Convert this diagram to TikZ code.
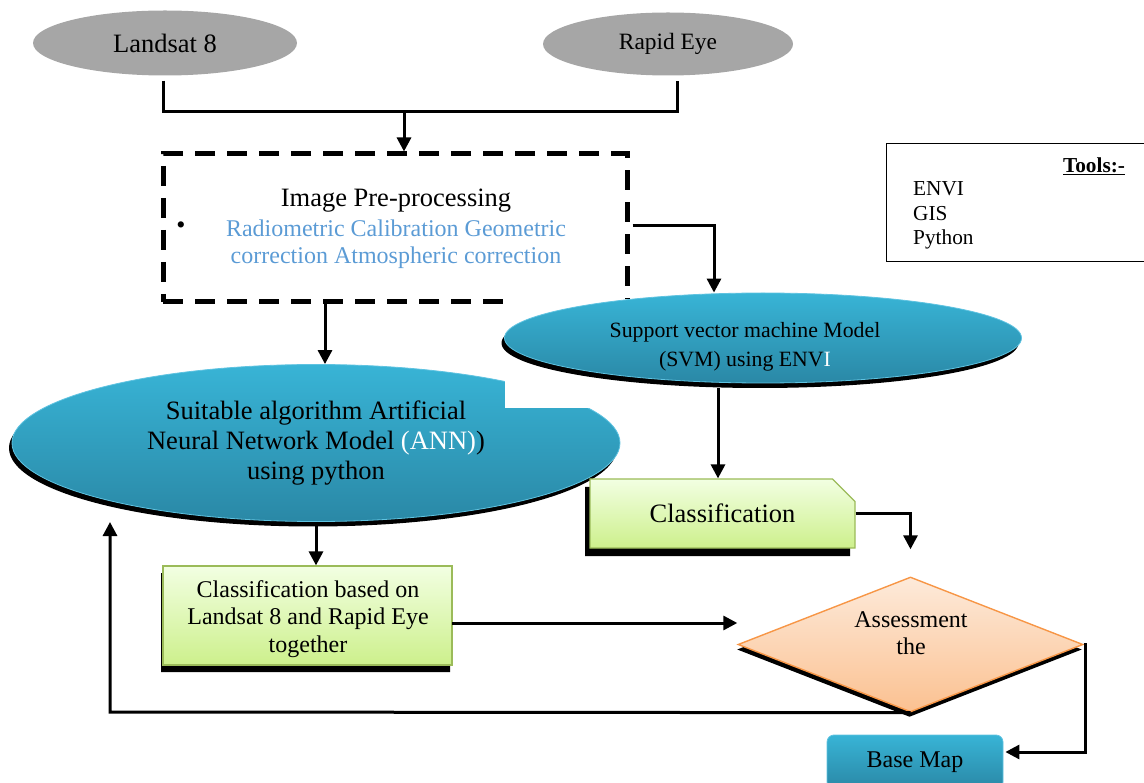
\documentclass[tikz,border=0pt]{standalone}
\usepackage{fontspec}
\setmainfont{Liberation Serif}
\usetikzlibrary{shapes.geometric,shapes.misc,arrows.meta,shadows}
\definecolor{srcgray}{RGB}{166,166,166}
\definecolor{bluetop}{RGB}{56,180,214}
\definecolor{bluebot}{RGB}{42,136,166}
\definecolor{blueedge}{RGB}{95,195,225}
\definecolor{bluetxt}{RGB}{91,155,213}
\definecolor{greentop}{RGB}{242,255,226}
\definecolor{greenbot}{RGB}{205,240,140}
\definecolor{greenedge}{RGB}{155,187,89}
\definecolor{orangetop}{RGB}{253,234,218}
\definecolor{orangebot}{RGB}{251,193,145}
\definecolor{orangeedge}{RGB}{247,150,70}
\begin{document}
\begin{tikzpicture}[x=1pt,y=-1pt,
  conn/.style={line width=3pt},
  arr/.style={conn,-{Triangle[length=14pt,width=14pt]}},
  big/.style={font=\fontsize{26.5}{30}\selectfont},
  mid/.style={font=\fontsize{24}{27.5}\selectfont},
  small/.style={font=\fontsize{21.3}{25}\selectfont},
  srcnode/.style={ellipse, fill=srcgray, inner sep=0pt},
  modelnode/.style={ellipse, inner sep=0pt, top color=bluetop, bottom color=bluebot, draw=blueedge, line width=0.8pt,
    drop shadow={shadow xshift=-3pt, shadow yshift=-5pt, fill=black, opacity=1}},
  resnode/.style={chamfered rectangle, chamfered rectangle corners=north east,
    chamfered rectangle xsep=13pt, chamfered rectangle ysep=13pt, inner sep=0pt,
    top color=greentop, bottom color=greenbot, draw=greenedge, line width=1.2pt},
  decnode/.style={diamond, inner sep=0pt, top color=orangetop, bottom color=orangebot, draw=orangeedge, line width=1.4pt,
    drop shadow={shadow xshift=-1pt, shadow yshift=-5pt, fill=black, opacity=1}},
  basenode/.style={rectangle, rounded corners=7pt, inner sep=0pt, top color=bluetop, bottom color=bluebot, draw=blueedge, line width=0.8pt},
  prebox/.style={rectangle, draw, line width=5pt, dash pattern=on 20pt off 12pt, inner sep=0pt}
]
\useasboundingbox (0,0) rectangle (1144,783);
\clip (0,0) rectangle (1144,783);

% sources
\node[srcnode, big, minimum width=264pt, minimum height=65pt] (land) at (165,43) {Landsat 8};
\node[srcnode, font=\fontsize{23.4}{28}\selectfont, minimum width=250pt, minimum height=63pt] (rapid) at (668,44) {Rapid Eye};

% ANN model
\node[modelnode, big, align=center, minimum width=608pt, minimum height=157pt] (ann) at (316,443)
  {Suitable algorithm Artificial\\Neural Network Model \textcolor{white}{(ANN)})\\using python};

% pre-processing box
\node[prebox, minimum width=464pt, minimum height=148pt] (pre) at (395,228) {};
\node[big] (pretitle) at (396,201) {Image Pre-processing};
\node[mid, text=bluetxt, align=center] (prebody) at (396,244) {Radiometric Calibration Geometric\\correction Atmospheric correction};
\node[font=\fontsize{26}{28}\selectfont] (bul) at (181,228) {\textbullet};

% white patch (overlap in the original)
\fill[white] (505,299) rectangle (636,408);

% SVM model
\node[modelnode, minimum width=517pt, minimum height=90pt] (svm) at (763,338) {};
\node[font=\fontsize{21.8}{29}\selectfont, align=center] (svmtext) at (745,347) {Support vector machine Model\\(SVM) using ENV\textcolor{white}{I}};

% classification boxes
\node[resnode, big, minimum width=265pt, minimum height=69pt,
  drop shadow={shadow xshift=-5pt, shadow yshift=-8pt, fill=black, opacity=1}] (cls) at (722.5,513.5) {Classification};
\node[resnode, minimum width=289pt, minimum height=99pt,
  drop shadow={shadow xshift=-2pt, shadow yshift=-7pt, fill=black, opacity=1}] (cls2) at (307.5,615.5) {};
\node[mid, align=center] (cls2text) at (308,619) {Classification based on\\Landsat 8 and Rapid Eye\\together};

% assessment
\node[decnode, minimum width=345pt, minimum height=135pt] (ass) at (910.5,644.5) {};
\node[mid, align=center] (asstext) at (911,633) {Assessment\\the};

% base map
\node[basenode, mid, minimum width=176pt, minimum height=54pt] (base) at (915,762) {Base Map};

% tools box
\node[draw, line width=1.3pt, minimum width=270pt, minimum height=118pt, anchor=north west, inner sep=0pt] (tools) at (886,143) {};
\node[font=\fontsize{21.3}{25}\selectfont\bfseries] (toolshead) at (1094,166) {\underline{Tools:-}};
\node[small, anchor=west, inner sep=0pt] (t1) at (913,189) {ENVI};
\node[small, anchor=west, inner sep=0pt] (t2) at (913,214) {GIS};
\node[small, anchor=west, inner sep=0pt] (t3) at (913,239) {Python};

% connectors
\coordinate (jL) at (163,112);
\coordinate (jR) at (677,112);
\coordinate (jM) at (404,112);
\draw[conn] (land.south -| jL) ++(0,5) -- (jL) -- (jR) -- ([yshift=-5pt]rapid.south -| jR);
\draw[arr] (jM) -- (jM |- pre.north);

\coordinate (jP) at (714,226);
\draw[arr] ([xshift=3pt]pre.east |- jP) -- (jP) -- (jP |- svm.north);

\coordinate (jA) at (325,303);
\draw[arr] (jA) -- (jA |- ann.north);

\coordinate (jS) at (718,388);
\draw[arr] (jS) -- (jS |- cls.north);

\draw[arr] (cls.east) -| ([yshift=27pt]ass.north);

\draw[arr] (ann.south) -- (ann.south |- cls2.north);

\coordinate (jC) at (452,623);
\draw[arr] (jC) -- (ass.west |- jC);

\coordinate (jF) at (110,712);
\coordinate (fbEnd) at (110,522);
\draw[arr] (ass.south) -- (jF) -- (fbEnd);

\coordinate (jB) at (1085,752);
\draw[arr] (ass.east) -| (jB) -- ([xshift=2pt]base.east |- jB);
\end{tikzpicture}
\end{document}
